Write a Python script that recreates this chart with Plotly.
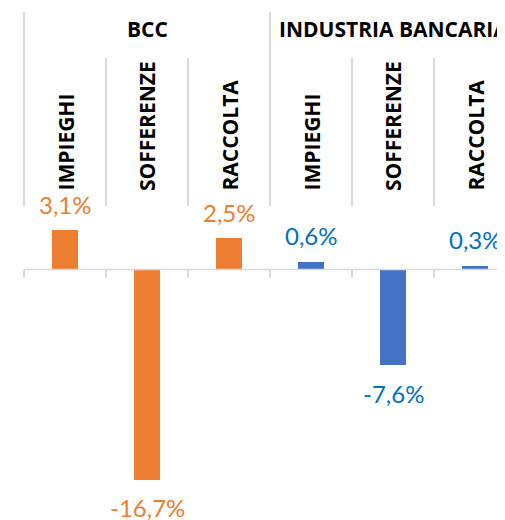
import plotly.graph_objects as go

# ---- data ----
groups = ["BCC", "INDUSTRIA BANCARIA"]
categories = ["IMPIEGHI", "SOFFERENZE", "RACCOLTA"]
bcc_values = [3.1, -16.7, 2.5]
industria_values = [0.6, -7.6, 0.3]

bar_colors = ["#ED7D31", "#4472C4"]
label_colors = ["#ED7D31", "#0070C0"]
grid_color = "#D9D9D9"

PAGE_OFF = 8            # browser body margin
W, H = 505 - PAGE_OFF, 520 - PAGE_OFF
left_px = 24 - PAGE_OFF  # left edge of first category
cat_px = 82              # width of one category
zero_px = 269.5 - PAGE_OFF
px_per_unit = 12.6

def paper_y(py):
    # py given in window pixels
    return 1 - (py - PAGE_OFF) / H

x_left = -0.5 - left_px / cat_px
x_right = x_left + W / cat_px
y_top = zero_px / px_per_unit
y_bottom = -(H - zero_px) / px_per_unit

series = [bcc_values, industria_values]
n = len(categories)

fig = go.Figure()
for g, vals in enumerate(series):
    xs = [g * n + i for i in range(n)]
    fig.add_trace(go.Bar(
        x=xs, y=vals, width=26 / cat_px,
        marker=dict(color=bar_colors[g], line=dict(width=0)),
        name=groups[g], showlegend=False, hoverinfo="skip",
    ))
    for x, v in zip(xs, vals):
        fig.add_annotation(
            x=x, y=v, xref="x", yref="y",
            text=f"{v:.1f}%".replace(".", ","),
            showarrow=False, yanchor="middle",
            yshift=26 if v > 0 else -28,
            font=dict(family="Lato", size=24, color=label_colors[g]),
        )
    # group header
    fig.add_annotation(
        x=g * n + (n - 1) / 2, y=paper_y(28.5), xref="x", yref="paper",
        text=f"<b>{groups[g]}</b>", showarrow=False, yanchor="middle",
        font=dict(family="Open Sans", size=21, color="#000000"),
    )
    # category labels (rotated)
    for i, c in enumerate(categories):
        fig.add_annotation(
            x=g * n + i, y=paper_y(193), xref="x", yref="paper",
            text=f"<b>{c}</b>", showarrow=False, textangle=-90,
            yanchor="bottom", xanchor="center",
            font=dict(family="Open Sans", size=21, color="#000000"),
        )

shapes = []
total = n * len(groups)
for k in range(total + 1):
    xb = k - 0.5
    outer = (k % n == 0)
    shapes.append(dict(
        type="line", xref="x", yref="paper",
        x0=xb, x1=xb, y0=paper_y(12 if outer else 58), y1=paper_y(206),
        line=dict(color=grid_color, width=2),
    ))
    shapes.append(dict(
        type="line", xref="x", yref="y", ysizemode="pixel", yanchor=0,
        x0=xb, x1=xb, y0=0, y1=-8,
        line=dict(color=grid_color, width=2),
    ))
shapes.append(dict(
    type="line", xref="x", yref="y",
    x0=-0.5, x1=total - 0.5, y0=0, y1=0,
    line=dict(color=grid_color, width=1.5),
))

fig.update_layout(
    width=W, height=H,
    margin=dict(l=0, r=0, t=0, b=0),
    paper_bgcolor="white", plot_bgcolor="white",
    shapes=shapes,
    bargap=0,
    xaxis=dict(range=[x_left, x_right], visible=False, fixedrange=True),
    yaxis=dict(range=[y_bottom, y_top], visible=False, fixedrange=True),
)

fig.write_html("out.html")
